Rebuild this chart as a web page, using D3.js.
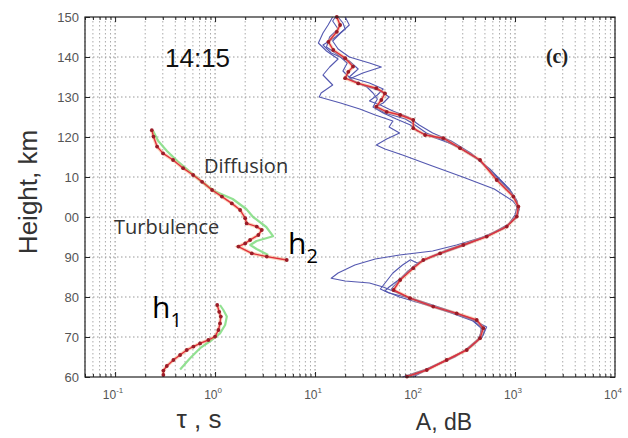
<!DOCTYPE html>
<html><head><meta charset="utf-8">
<script src="https://cdn.jsdelivr.net/npm/d3@7"></script>
<style>body{margin:0;background:#fff}svg{display:block}</style>
</head><body>
<svg id="c" width="628" height="438"></svg>
<script>
// ---- data ----
const yTicks = [60,70,80,90,100,110,120,130,140,150];
const yTickLabels = ["60","70","80","90","00","10","120","130","140","150"];
const xTickValues = [0.1,1,10,100,1000,10000];
const xTickExps = ["-1","0","1","2","3","4"];

// tau, upper layer (red, with markers)
const tauUpperH = [121.7,120.1,117.6,115.9,114.25,112.2,110.5,108.8,106.75,105.1,103.4,101.75,99.7,98.4,97.6,96.75,95.5,94.25,93.4,92.6,90.9,90.1,89.25];
const tauUpperV = [0.233,0.242,0.263,0.302,0.380,0.479,0.603,0.741,0.933,1.17,1.47,1.78,2.0,2.07,2.61,2.93,2.71,2.24,2.0,1.71,2.33,3.29,5.21];
// tau, upper layer fit (green)
const tauUpperFitH = [121.5,119,116.5,114,111.5,109,106.5,104.5,102,100,97.5,95.2,94,93,92,90.5];
const tauUpperFitV = [0.24,0.27,0.33,0.42,0.55,0.72,0.98,1.5,2.05,2.4,3.25,3.8,2.6,2.25,2.6,3.4];
// tau, lower layer (red)
const tauLowerH = [60.5,61.6,62.75,64.25,65.5,66.75,67.6,68.4,69.25,70.1,71.75,73.4,75.1,76.3,78];
const tauLowerV = [0.304,0.304,0.329,0.383,0.447,0.521,0.607,0.708,0.857,1.0,1.08,1.12,1.14,1.10,1.05];
// tau, lower layer fit (green)
const tauLowerFitH = [61.9,64.7,67.2,69.25,70.9,73,75.1,76.75,78];
const tauLowerFitV = [0.447,0.562,0.708,0.927,1.12,1.26,1.31,1.21,1.12];

// A, mean profile (red with markers)
const ampMeanH = [150,148,146.3,143.8,141.75,139.7,137.6,136.3,134.7,133.4,132.2,130.9,129.25,127.6,126.3,125.5,124.25,122.2,120.5,119.7,117.2,114.25,109.25,105.1,102.6,100.1,97.6,95.1,93,90.9,89.25,87.2,84.25,81.75,79.7,77.6,75.9,74.25,72.2,69.7,66.75,64.25,61.75,60.1];
const ampMeanV = [16.5,17.8,16.5,13.6,15.2,20,24,21.5,20,27,41,50,46,41,52,71,96,96,126,192,282,447,656,962,1080,1040,826,521,304,178,121,96,71,61,89,152,261,414,482,447,329,207,131,83];

// A, individual profiles (blue)
const amp1H = [150,148,146,143.5,141.5,139.5,137.5,135.5,133,131,130,128.5,127,125.5,124,122.5,121,119.5,118,117,115.5,113,110,107,104,102,100,97.5,95,93,91.5,90.5,89.5,88,86,84.7,84,83.5,82.5,81.5,80,78,76,74,72,70,67,64.5,62,60];
const amp1V = [15,13.5,12,10.8,13,17,14,12,15,11.5,11,18,28,40,60,55,70,52,41,50,75,140,300,620,950,1100,1050,800,480,260,150,70,40,25,17,14.5,20,35,48,60,85,150,260,420,500,470,340,215,130,75];
const amp2H = [150,148,146,144,142,140,138.5,137.5,136,134.5,133,131.5,130,128.5,127.5,126,124.5,123,121,119,117,114,110,106,103,100.5,98,95.5,93,91,89.5,88.5,89.3,88,86,84,82,81,80,78,76,74,72.5,70.5,68,65,62.5,60];
const amp2V = [20,22,18,15,17,22,35,46,30,22,30,45,55,48,40,50,80,100,130,200,290,450,640,930,1060,1000,850,560,320,190,130,105,90,75,60,52,45,55,80,140,240,400,520,480,380,250,150,90];
const amp3H = [150,148.5,147,145,143,141,139,137,135,133.5,132,130.5,129,128,126.5,125,123,121,119,116,112,108,104.5,102,99.5,97,94.5,92.5,90.5,88.5,86.5,84,82,80.5,78.5,76.5,74.5,72.5,70,67.5,65,62.5,60];
const amp3V = [17,19,20,16,12,14.5,22,27,22,35,48,42,35,45,60,85,110,150,230,360,560,800,1020,1100,1000,760,450,260,160,110,85,68,58,75,120,210,360,460,450,360,240,150,95];
const amp4H = [150,149,147,145,142.5,140.5,138.5,136.5,134,132.5,131,129.5,127.5,126,124.5,123,121.5,120,118,115,111,107,104,101,98.5,96,94,92,90,88,85,82.5,81.5,80,78,76,74,72,69.5,66.5,64,61.5,60];
const amp4V = [16,15,17,14,13,17,21,19,24,33,38,42,38,48,65,90,105,150,250,400,600,880,1050,1080,900,600,380,220,140,100,75,55,50,70,130,230,380,470,430,310,195,120,80];

// ---- drawing ----
const svg = d3.select("#c");
const L = 85, R = 615, T = 17, B = 377;
const x = d3.scaleLog().domain([0.05, 1e4]).range([L, R]);
const y = d3.scaleLinear().domain([60, 150]).range([B, T]);

// minor positions
const minorVals = [];
for (let d = -2; d <= 4; d++) for (let k = 1; k <= 9; k++) {
  const v = +(k * Math.pow(10, d)).toPrecision(3);
  if (v >= 0.05 && v <= 1e4) minorVals.push(v);
}

const grid = svg.append("g");
grid.selectAll("line.v").data(minorVals).join("line")
  .attr("x1", d => x(d)).attr("x2", d => x(d)).attr("y1", T).attr("y2", B)
  .attr("stroke", d => xTickValues.includes(d) ? "#888" : "#aaa")
  .attr("stroke-width", 1).attr("stroke-dasharray", "1.5,2.5");
grid.selectAll("line.h").data(yTicks.slice(1, -1)).join("line")
  .attr("x1", L).attr("x2", R).attr("y1", d => y(d)).attr("y2", d => y(d))
  .attr("stroke", "#999").attr("stroke-width", 1).attr("stroke-dasharray", "1.5,2.5");

// axes tick marks
const minorOnly = minorVals.filter(v => !xTickValues.includes(v));
function tickAxis(gen, vals, size, tr) {
  const g = svg.append("g").attr("transform", tr)
    .call(gen.tickValues(vals).tickSizeInner(size).tickSizeOuter(0).tickFormat(""));
  g.select(".domain").remove();
  g.selectAll("line").attr("stroke", "#222");
  return g;
}
tickAxis(d3.axisBottom(x), xTickValues.filter(v => v > 0.05 && v < 1e4), -5, `translate(0,${B})`);
tickAxis(d3.axisBottom(x), minorOnly, -3, `translate(0,${B})`);
tickAxis(d3.axisTop(x), xTickValues.filter(v => v > 0.05 && v < 1e4), -5, `translate(0,${T})`);
tickAxis(d3.axisTop(x), minorOnly, -3, `translate(0,${T})`);
tickAxis(d3.axisLeft(y), yTicks, -5, `translate(${L},0)`);
tickAxis(d3.axisRight(y), yTicks, -5, `translate(${R},0)`);

const line = d3.line().x(d => x(d[1])).y(d => y(d[0]));
const zip = (h, v) => h.map((hh, i) => [hh, v[i]]);

// blue profiles
[[amp1H, amp1V], [amp2H, amp2V], [amp3H, amp3V], [amp4H, amp4V]].forEach(([h, v]) => {
  svg.append("path").attr("d", line(zip(h, v))).attr("fill", "none")
    .attr("stroke", "#5458b0").attr("stroke-width", 1.1).attr("stroke-linejoin", "round");
});

// green fits
[[tauUpperFitH, tauUpperFitV], [tauLowerFitH, tauLowerFitV]].forEach(([h, v]) => {
  svg.append("path").attr("d", line(zip(h, v))).attr("fill", "none")
    .attr("stroke", "#7fdc7f").attr("stroke-width", 2.2).attr("stroke-opacity", 0.85)
    .attr("stroke-linejoin", "round");
});

// red with markers
[[tauUpperH, tauUpperV], [tauLowerH, tauLowerV], [ampMeanH, ampMeanV]].forEach(([h, v]) => {
  const pts = zip(h, v);
  svg.append("path").attr("d", line(pts)).attr("fill", "none")
    .attr("stroke", "#f2a06a").attr("stroke-width", 3.5).attr("stroke-opacity", 0.45);
  svg.append("path").attr("d", line(pts)).attr("fill", "none")
    .attr("stroke", "#e0303c").attr("stroke-width", 1.4).attr("stroke-linejoin", "round");
  svg.append("g").selectAll("circle").data(pts).join("circle")
    .attr("cx", d => x(d[1])).attr("cy", d => y(d[0])).attr("r", 1.9)
    .attr("fill", "#9a1c28");
});

// frame
svg.append("rect").attr("x", L).attr("y", T).attr("width", R - L).attr("height", B - T)
  .attr("fill", "none").attr("stroke", "#222").attr("stroke-width", 1.2);

// tick labels
const font = "'Liberation Sans', Arial, sans-serif";
svg.append("g").selectAll("text").data(yTicks).join("text")
  .attr("x", L - 6).attr("y", d => y(d) + 4.5).attr("text-anchor", "end")
  .attr("font-family", font).attr("font-size", 13).attr("fill", "#555")
  .text((d, i) => yTickLabels[i]);
const xl = svg.append("g").selectAll("text").data(xTickValues).join("text")
  .attr("x", d => x(d) - 2).attr("y", B + 22).attr("text-anchor", "middle")
  .attr("font-family", font).attr("font-size", 12).attr("fill", "#555");
xl.append("tspan").text("10");
xl.append("tspan").attr("dy", -6).attr("font-size", 8).text((d, i) => xTickExps[i]);

// axis titles
svg.append("text").attr("transform", "translate(37,192) rotate(-90)").attr("text-anchor", "middle")
  .attr("font-family", font).attr("font-size", 26).attr("fill", "#333").text("Height, km");
svg.append("text").attr("x", 199).attr("y", 428).attr("text-anchor", "middle")
  .attr("font-family", font).attr("font-size", 26).attr("fill", "#333").text("τ , s");
svg.append("text").attr("x", 444).attr("y", 430).attr("text-anchor", "middle")
  .attr("font-family", font).attr("font-size", 23).attr("fill", "#333").text("A, dB");

// annotations
svg.append("text").attr("x", 165).attr("y", 67).attr("font-family", font)
  .attr("font-size", 26).attr("fill", "#111").text("14:15");
svg.append("text").attr("x", 557).attr("y", 63).attr("text-anchor", "middle")
  .attr("font-family", "'Liberation Serif', serif").attr("font-weight", "bold")
  .attr("font-size", 20).attr("fill", "#222").text("(c)");
const ann = "'Open Sans', 'Noto Sans', sans-serif";
svg.append("text").attr("x", 204).attr("y", 173).attr("font-family", ann)
  .attr("font-size", 20).attr("fill", "#333").text("Diffusion");
svg.append("text").attr("x", 114).attr("y", 234).attr("font-family", ann)
  .attr("font-size", 20).attr("fill", "#333").text("Turbulence");
const h2 = svg.append("text").attr("x", 288).attr("y", 254).attr("font-family", ann)
  .attr("font-size", 30).attr("fill", "#000");
h2.append("tspan").text("h");
h2.append("tspan").attr("dy", 9).attr("font-size", 20).text("2");
const h1 = svg.append("text").attr("x", 152).attr("y", 318).attr("font-family", ann)
  .attr("font-size", 30).attr("fill", "#000");
h1.append("tspan").text("h");
h1.append("tspan").attr("dy", 9).attr("font-size", 20).text("1");
</script>
</body></html>
